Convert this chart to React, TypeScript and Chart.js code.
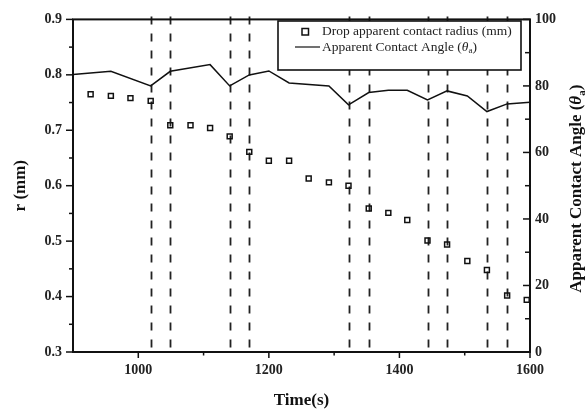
import React, { useEffect, useRef } from 'react';
import { Chart, registerables } from 'chart.js';

Chart.register(...registerables);

// ---- data ----
const radiusTimes = [927, 958, 988, 1019, 1049, 1080, 1110, 1140, 1170, 1200, 1231, 1261, 1292, 1322, 1353, 1383, 1412, 1443, 1473, 1504, 1534, 1565, 1595];
const radiusValues = [0.765, 0.762, 0.758, 0.753, 0.709, 0.709, 0.704, 0.689, 0.661, 0.645, 0.645, 0.613, 0.606, 0.600, 0.559, 0.551, 0.538, 0.501, 0.494, 0.464, 0.448, 0.402, 0.394];
const angleTimes = [900, 958, 1019, 1049, 1110, 1140, 1170, 1200, 1231, 1292, 1322, 1353, 1383, 1412, 1443, 1473, 1504, 1534, 1565, 1600];
const angleValues = [83.4, 84.4, 80.0, 84.4, 86.4, 80.0, 83.3, 84.5, 80.9, 80.0, 74.3, 78.0, 78.7, 78.7, 75.8, 78.5, 77.0, 72.3, 74.6, 75.1];
const eventTimes = [1019, 1049, 1140, 1170, 1322, 1353, 1443, 1473, 1534, 1565];

const xTicks = [1000, 1200, 1400, 1600];
const xTickLabels = ['1000', '1200', '1400', '1600'];
const xMinorTicks = [1100, 1300, 1500];
const rTicks = [0.3, 0.4, 0.5, 0.6, 0.7, 0.8, 0.9];
const rTickLabels = ['0.3', '0.4', '0.5', '0.6', '0.7', '0.8', '0.9'];
const rMinorTicks = [0.35, 0.45, 0.55, 0.65, 0.75, 0.85];
const aTicks = [0, 20, 40, 60, 80, 100];
const aTickLabels = ['0', '20', '40', '60', '80', '100'];
const aMinorTicks = [10, 30, 50, 70, 90];

const radiusLabel = 'Drop apparent contact radius (mm)';
const angleLabel = 'Apparent Contact Angle (θₐ)';
const xTitle = 'Time(s)';
const leftTitle = 'r (mm)';
const rightTitle = 'Apparent Contact Angle (θₐ)';

const SERIF = '"Liberation Serif", "DejaVu Serif", serif';

// draws text, rendering "θₐ" as italic theta with subscript a
function richSegments(text: string) {
  const idx = text.indexOf('θₐ');
  if (idx < 0) return [{ t: text, kind: 'n' }];
  return [
    { t: text.slice(0, idx), kind: 'n' },
    { t: 'θ', kind: 'i' },
    { t: 'a', kind: 's' },
    { t: text.slice(idx + 2), kind: 'n' },
  ];
}
function fontFor(kind: string, size: number, weight: string) {
  if (kind === 'i') return `italic ${weight} ${size}px ${SERIF}`;
  if (kind === 's') return `${weight} ${Math.round(size * 0.65)}px ${SERIF}`;
  return `${weight} ${size}px ${SERIF}`;
}
function measureRich(ctx: CanvasRenderingContext2D, text: string, size: number, weight: string) {
  let w = 0;
  for (const s of richSegments(text)) {
    ctx.font = fontFor(s.kind, size, weight);
    w += ctx.measureText(s.t).width;
  }
  return w;
}
function drawRich(ctx: CanvasRenderingContext2D, text: string, x: number, y: number, size: number, weight: string) {
  ctx.textAlign = 'left';
  ctx.textBaseline = 'middle';
  let cx = x;
  for (const s of richSegments(text)) {
    ctx.font = fontFor(s.kind, size, weight);
    ctx.fillText(s.t, cx, s.kind === 's' ? y + size * 0.3 : y);
    cx += ctx.measureText(s.t).width;
  }
}

const decorPlugin = {
  id: 'decor',
  beforeDatasetsDraw(chart: any) {
    const { ctx, chartArea } = chart;
    const xs = chart.scales.x;
    ctx.save();
    ctx.strokeStyle = '#222';
    ctx.lineWidth = 1.8;
    ctx.setLineDash([8, 9]);
    for (const t of eventTimes) {
      const px = Math.round(xs.getPixelForValue(t)) + 0.5;
      ctx.beginPath();
      ctx.moveTo(px, chartArea.top - 3);
      ctx.lineTo(px, chartArea.bottom);
      ctx.stroke();
    }
    ctx.restore();
  },
  afterDatasetsDraw(chart: any) {
    const { ctx, chartArea } = chart;
    const { left, right, top, bottom } = chartArea;
    const xs = chart.scales.x;
    const ys = chart.scales.y;
    const ys1 = chart.scales.y1;
    ctx.save();
    ctx.strokeStyle = '#111';
    ctx.lineWidth = 1.5;
    ctx.setLineDash([]);
    const line = (x1: number, y1: number, x2: number, y2: number) => {
      ctx.beginPath();
      ctx.moveTo(x1, y1);
      ctx.lineTo(x2, y2);
      ctx.stroke();
    };
    rTicks.forEach((v) => { const y = ys.getPixelForValue(v); line(left - 7, y, left, y); });
    rMinorTicks.forEach((v) => { const y = ys.getPixelForValue(v); line(left - 4, y, left, y); });
    xTicks.forEach((v) => { const x = xs.getPixelForValue(v); line(x, bottom, x, bottom + 6); });
    xMinorTicks.forEach((v) => { const x = xs.getPixelForValue(v); line(x, bottom, x, bottom + 3.5); });
    aTicks.forEach((v) => { const y = ys1.getPixelForValue(v); line(right - 7, y, right, y); });
    aMinorTicks.forEach((v) => { const y = ys1.getPixelForValue(v); line(right - 5, y, right, y); });
    // frame
    ctx.lineWidth = 2;
    ctx.strokeRect(left, top, right - left, bottom - top);

    // legend
    const ds = chart.data.datasets;
    const lx = 278, ly = 21, lw = 243, lh = 49;
    ctx.fillStyle = '#fff';
    ctx.fillRect(lx, ly, lw, lh);
    ctx.lineWidth = 1.6;
    ctx.strokeRect(lx, ly, lw, lh);
    ctx.fillStyle = '#222';
    ctx.lineWidth = 1.5;
    ctx.strokeRect(302, 28.5, 6.5, 6.5);
    drawRich(ctx, ds[0].label, 322, 31, 13.5, 'normal');
    ctx.lineWidth = 1.2;
    line(295, 47, 320, 47);
    drawRich(ctx, ds[1].label, 322, 47, 13.5, 'normal');

    // right axis title (reads bottom-to-top)
    ctx.fillStyle = '#111';
    const w = measureRich(ctx, rightTitle, 17, 'bold');
    ctx.translate(577, (top + bottom) / 2 + 3);
    ctx.rotate(-Math.PI / 2);
    drawRich(ctx, rightTitle, -w / 2, 0, 17, 'bold');
    ctx.restore();
  },
};

const tickFont = { family: SERIF, size: 14, weight: 'bold' as const };
const titleFont = { family: SERIF, size: 17, weight: 'bold' as const };

export default function App() {
  const ref = useRef<HTMLCanvasElement>(null);
  useEffect(() => {
    document.body.style.margin = '0';
    const canvas = ref.current!;
    const chart = new Chart(canvas, {
      type: 'scatter',
      data: {
        datasets: [
          {
            label: radiusLabel,
            data: radiusTimes.map((t, i) => ({ x: t, y: radiusValues[i] })),
            yAxisID: 'y',
            showLine: false,
            pointStyle: 'rect',
            pointRadius: 3.5,
            pointBorderWidth: 1.5,
            borderColor: '#111',
            backgroundColor: 'rgba(0,0,0,0)',
          },
          {
            label: angleLabel,
            data: angleTimes.map((t, i) => ({ x: t, y: angleValues[i] })),
            yAxisID: 'y1',
            showLine: true,
            pointRadius: 0,
            borderColor: '#111',
            borderWidth: 1.5,
            tension: 0,
          },
        ],
      } as any,
      options: {
        animation: false,
        responsive: false,
        devicePixelRatio: 1,
        layout: { padding: { top: 15, left: 0, right: 0, bottom: 0 } },
        plugins: { legend: { display: false }, tooltip: { enabled: false } },
        scales: {
          x: {
            type: 'linear',
            position: 'bottom',
            min: 900,
            max: 1600,
            afterFit: (s: any) => { s.height = 59; },
            afterBuildTicks: (s: any) => { s.ticks = xTicks.map((v) => ({ value: v })); },
            grid: { display: true, drawOnChartArea: false, drawTicks: false },
            border: { display: false },
            ticks: {
              padding: 10,
              font: tickFont,
              color: '#222',
              maxRotation: 0,
              callback: (_v: any, i: number) => xTickLabels[i],
            },
            title: { display: true, text: xTitle, font: titleFont, color: '#111', padding: { top: 0, bottom: 0 } },
          },
          y: {
            type: 'linear',
            position: 'left',
            min: 0.3,
            max: 0.9,
            afterFit: (s: any) => { s.width = 73; },
            afterBuildTicks: (s: any) => { s.ticks = rTicks.map((v) => ({ value: v })); },
            grid: { display: true, drawOnChartArea: false, drawTicks: false },
            border: { display: false },
            ticks: {
              padding: 11,
              font: tickFont,
              color: '#222',
              callback: (_v: any, i: number) => rTickLabels[i],
            },
            title: { display: true, text: leftTitle, font: titleFont, color: '#111', padding: { top: 10, bottom: 0 } },
          },
          y1: {
            type: 'linear',
            position: 'right',
            min: 0,
            max: 100,
            afterFit: (s: any) => { s.width = 57; },
            afterBuildTicks: (s: any) => { s.ticks = aTicks.map((v) => ({ value: v })); },
            grid: { display: true, drawOnChartArea: false, drawTicks: false },
            border: { display: false },
            ticks: {
              padding: 5,
              font: tickFont,
              color: '#222',
              callback: (_v: any, i: number) => aTickLabels[i],
            },
          },
        },
      } as any,
      plugins: [decorPlugin],
    });
    return () => chart.destroy();
  }, []);
  return (
    <div style={{ position: 'fixed', left: 0, top: 0, width: 587, height: 411, background: '#fff' }}>
      <canvas ref={ref} width={587} height={411} style={{ width: 587, height: 411, display: 'block' }} />
    </div>
  );
}
